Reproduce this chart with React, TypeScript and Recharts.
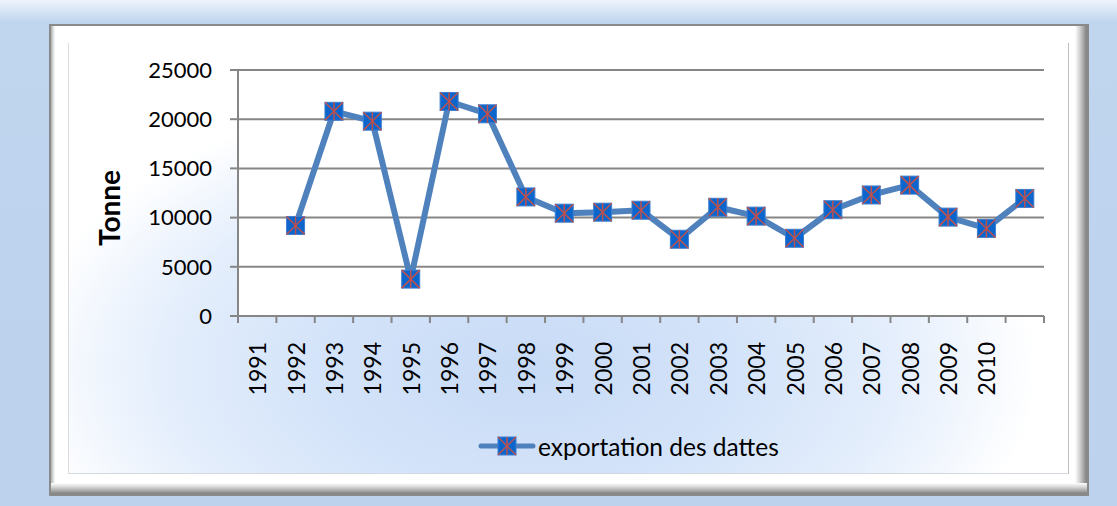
import React from 'react'
import {
  ComposedChart,
  Line,
  XAxis,
  YAxis,
  CartesianGrid
} from 'recharts'

// Excel leaves the first slot empty and the last slot unlabelled
const years = [
  '1991', '1992', '1993', '1994', '1995', '1996', '1997', '1998', '1999', '2000',
  '2001', '2002', '2003', '2004', '2005', '2006', '2007', '2008', '2009', '2010', ''
]
const exportations = [
  null, 9200, 20800, 19800, 3750, 21800, 20550, 12100, 10450, 10550,
  10750, 7800, 11050, 10150, 7900, 10800, 12300, 13300, 10050, 8900, 11950
]
const yTicks = [0, 5000, 10000, 15000, 20000, 25000]
const seriesName = 'exportation des dattes'

const data = years.map((year, i) => ({ year, value: exportations[i] }))

const W = 1117
const H = 506
const PLOT_LEFT = 238
const PLOT_RIGHT = 1044
const HALF_BAND = (PLOT_RIGHT - PLOT_LEFT) / years.length / 2
const FONT = 'Lato, "Open Sans", sans-serif'
const LINE = '#4f81bd'
const AXIS = '#868686'

const Marker = ({ cx, cy }: { cx?: number; cy?: number }) => {
  if (cx == null || cy == null) return null
  const s = 9
  return (
    <g>
      <rect x={cx - s} y={cy - s} width={s * 2} height={s * 2} fill="#0a66cc" stroke="#3f7fcf" strokeWidth={1} />
      <line x1={cx - s} y1={cy - s} x2={cx + s} y2={cy + s} stroke="#c0504d" strokeWidth={1.5} />
      <line x1={cx + s} y1={cy - s} x2={cx - s} y2={cy + s} stroke="#c0504d" strokeWidth={1.5} />
      <line x1={cx} y1={cy - s} x2={cx} y2={cy + s} stroke="#c0504d" strokeWidth={1.5} />
    </g>
  )
}

const YearTick = (props: any) => {
  const { x, y, payload, index } = props
  const tx = x + 9
  const ty = y + 26
  return (
    <g>
      <line x1={x - HALF_BAND} x2={x - HALF_BAND} y1={y} y2={y + 7} stroke={AXIS} strokeWidth={2} />
      {index === years.length - 1 && (
        <line x1={x + HALF_BAND} x2={x + HALF_BAND} y1={y} y2={y + 7} stroke={AXIS} strokeWidth={2} />
      )}
      <text
        x={tx}
        y={ty}
        transform={`rotate(-90, ${tx}, ${ty})`}
        textAnchor="end"
        fontSize={23}
        fontFamily={FONT}
        fill="#000"
      >
        {payload.value}
      </text>
    </g>
  )
}

export default function App() {
  return (
    <div
      style={{
        position: 'fixed',
        left: 0,
        top: 0,
        width: W,
        height: H,
        overflow: 'hidden',
        background: 'linear-gradient(to bottom, #eef4fb 0px, #c0d5ee 22px, #bcd2ed 100%)'
      }}
    >
      {/* frame with bevel */}
      <div
        style={{
          position: 'absolute',
          left: 49,
          top: 24,
          width: 1040,
          height: 472,
          boxSizing: 'border-box',
          border: '2px solid #8a8a8a',
          background: '#fff'
        }}
      >
        <div
          style={{
            position: 'absolute',
            left: 0,
            top: 0,
            bottom: 0,
            width: 4,
            background: 'linear-gradient(to right, #b0b0b0, #ffffff)'
          }}
        />
        <div
          style={{
            position: 'absolute',
            right: 0,
            top: 0,
            bottom: 0,
            width: 12,
            background: 'linear-gradient(to right, #ffffff, #d8d8d8 35%, #9a9a9a 80%, #7f7f7f)'
          }}
        />
        <div
          style={{
            position: 'absolute',
            left: 0,
            right: 0,
            bottom: 0,
            height: 11,
            background: 'linear-gradient(to bottom, #ffffff, #d8d8d8 35%, #9a9a9a 80%, #7f7f7f)'
          }}
        />
      </div>
      <div
        style={{
          position: 'absolute',
          left: 68,
          top: 43,
          width: 999,
          height: 430,
          borderLeft: '1px solid #dcdcdc',
          borderRight: '1px solid #bdbdbd',
          borderBottom: '1px solid #d4d9e0',
          background:
            'radial-gradient(ellipse 510px 290px at 46% 76%, #c8dbf6 0%, #d3e3f9 40%, #e4eefc 72%, #ffffff 100%)'
        }}
      />

      <div style={{ position: 'absolute', left: 0, top: 0 }}>
        <ComposedChart
          width={W}
          height={H}
          data={data}
          margin={{ top: 70, right: W - PLOT_RIGHT, left: 0, bottom: 100 }}
        >
          <CartesianGrid horizontal vertical={false} stroke={AXIS} strokeWidth={2} fill="#ffffff" />
          <XAxis
            dataKey="year"
            scale="band"
            height={90}
            axisLine={{ stroke: AXIS, strokeWidth: 2 }}
            tickLine={false}
            tickSize={0}
            tickMargin={0}
            interval={0}
            tick={<YearTick />}
          />
          <YAxis
            width={PLOT_LEFT}
            domain={[0, 25000]}
            ticks={yTicks}
            interval={0}
            axisLine={{ stroke: AXIS, strokeWidth: 2 }}
            tickLine={{ stroke: AXIS, strokeWidth: 2 }}
            tickSize={8}
            tickMargin={18}
            tick={{ fontSize: 22, fontFamily: FONT, fill: '#000' }}
            label={{
              content: () => (
                <text
                  x={120}
                  y={208}
                  transform="rotate(-90, 120, 208)"
                  textAnchor="middle"
                  fontSize={28}
                  fontWeight="bold"
                  fontFamily={FONT}
                  fill="#000"
                >
                  Tonne
                </text>
              )
            }}
          />
          <Line
            type="linear"
            dataKey="value"
            name={seriesName}
            stroke={LINE}
            strokeWidth={6}
            strokeLinejoin="round"
            dot={<Marker />}
            activeDot={false}
            connectNulls={false}
            isAnimationActive={false}
          />
        </ComposedChart>
      </div>

      {/* legend */}
      <div
        style={{
          position: 'absolute',
          left: 478,
          top: 431,
          display: 'flex',
          alignItems: 'center',
          fontFamily: FONT,
          fontSize: 24.5,
          color: '#000'
        }}
      >
        <svg width={58} height={30}>
          <line x1={3} y1={15} x2={55} y2={15} stroke={LINE} strokeWidth={5} strokeLinecap="round" />
          <Marker cx={29} cy={15} />
        </svg>
        <span style={{ marginLeft: 2 }}>{seriesName}</span>
      </div>
    </div>
  )
}
